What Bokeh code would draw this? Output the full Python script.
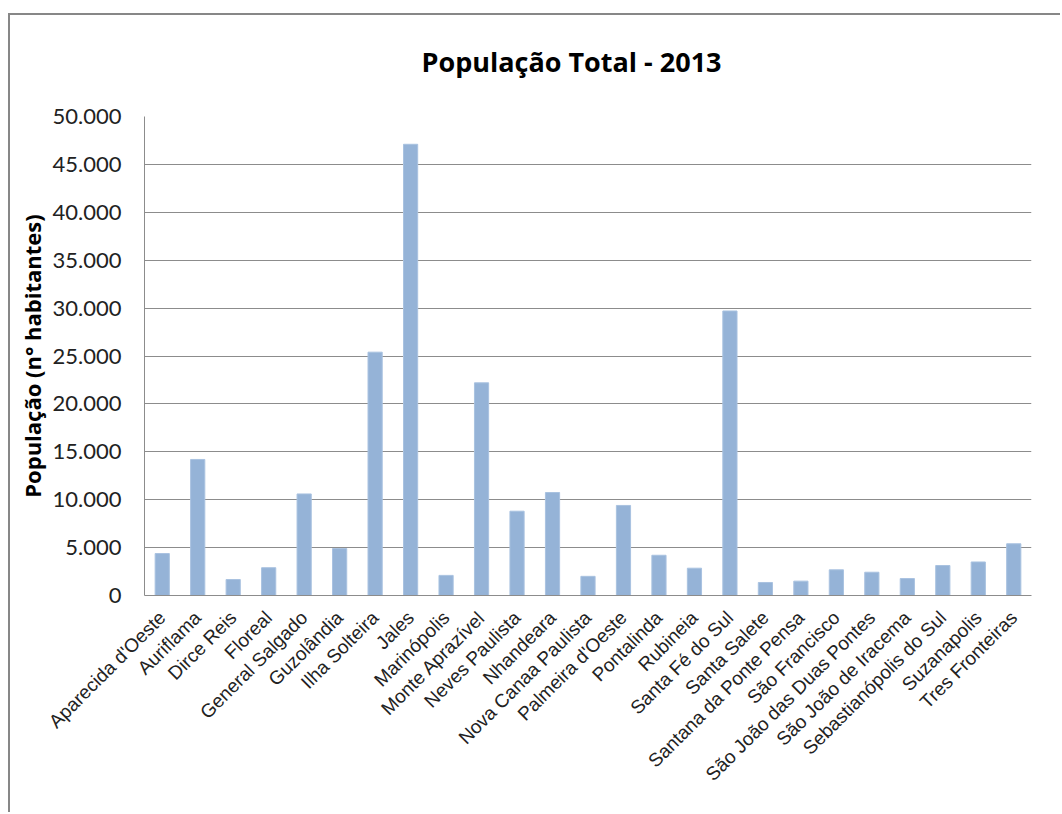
from bokeh.plotting import figure
from bokeh.models import FixedTicker, CustomJSTickFormatter, Title, FactorRange, Range1d, ColumnDataSource
from bokeh.embed import file_html
from bokeh.resources import INLINE
import math

cities = ["Aparecida d'Oeste", "Auriflama", "Dirce Reis", "Floreal", "General Salgado",
          "Guzolândia", "Ilha Solteira", "Jales", "Marinópolis", "Monte Aprazível",
          "Neves Paulista", "Nhandeara", "Nova Canaa Paulista", "Palmeira d'Oeste",
          "Pontalinda", "Rubineia", "Santa Fé do Sul", "Santa Salete",
          "Santana da Ponte Pensa", "São Francisco", "São João das Duas Pontes",
          "São João de Iracema", "Sebastianópolis do Sul", "Suzanapolis", "Tres Fronteiras"]
population = [4380, 14200, 1670, 2900, 10600,
              4900, 25400, 47100, 2100, 22200,
              8800, 10750, 2000, 9400,
              4200, 2850, 29700, 1360,
              1500, 2680, 2430,
              1770, 3130, 3500, 5400]
y_ticks = [0, 5000, 10000, 15000, 20000, 25000, 30000, 35000, 40000, 45000, 50000]

src = ColumnDataSource(dict(city=cities, pop=population))

p = figure(width=1052, height=799, x_range=FactorRange(*cities, range_padding=0),
           y_range=Range1d(0, 50000), output_backend="svg", toolbar_location=None,
           title=None,
           min_border_left=134, min_border_right=31, min_border_top=101, min_border_bottom=219,
           styles={"margin-left": "8px", "margin-top": "13px",
                   "border-left": "2px solid #878787", "border-top": "2px solid #878787"})
p.vbar(x="city", top="pop", width=0.4, source=src, fill_color="#95b3d7", line_color="#a9c2e0", line_width=1)

grid_col = "#8c8c8c"
p.outline_line_color = None
p.xgrid.grid_line_color = None
p.ygrid.grid_line_color = grid_col
p.ygrid.grid_line_width = 1
p.yaxis.ticker = FixedTicker(ticks=y_ticks)
p.yaxis.formatter = CustomJSTickFormatter(code="return tick.toFixed(0).replace(/\\B(?=(\\d{3})+(?!\\d))/g, '.');")
p.yaxis.major_label_text_font = "Lato"
p.yaxis.major_label_text_font_size = "22px"
p.yaxis.major_label_text_color = "#222222"
p.yaxis.major_label_standoff = 17
p.yaxis.major_tick_line_color = None
p.yaxis.minor_tick_line_color = None
p.yaxis.axis_line_color = grid_col
p.yaxis.axis_label = "População (n° habitantes)"
p.yaxis.axis_label_text_font = "Open Sans"
p.yaxis.axis_label_text_font_style = "bold"
p.yaxis.axis_label_text_font_size = "22px"
p.yaxis.axis_label_text_color = "#000000"
p.yaxis.axis_label_standoff = 3

p.xaxis.major_label_orientation = math.pi / 4
p.xaxis.major_label_text_font = "Liberation Sans"
p.xaxis.major_label_text_font_size = "19px"
p.xaxis.major_label_text_color = "#222222"
p.xaxis.major_tick_line_color = None
p.xaxis.axis_line_color = grid_col
p.xaxis.major_label_standoff = 13

spacer = Title(text=" ", text_font_size="1px", standoff=34)
p.add_layout(spacer, "above")
main_title = Title(text="População Total - 2013", align="left", offset=277,
                   text_font="Open Sans", text_font_size="27px", text_font_style="bold",
                   text_color="#000000", standoff=0)
p.add_layout(main_title, "above")

open("out.html", "w").write(file_html(p, INLINE))
